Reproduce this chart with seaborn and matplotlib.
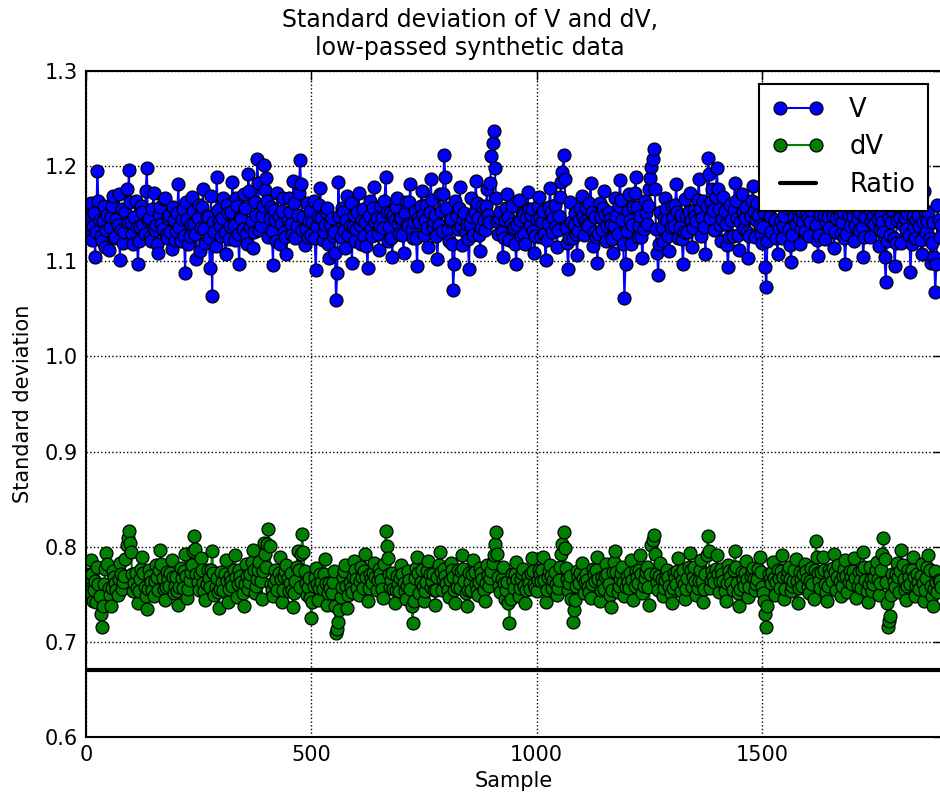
import matplotlib
matplotlib.use("Agg")
import matplotlib.pyplot as plt
import seaborn as sns
import numpy as np
import pandas as pd

# ---- data ----
# Values on samples 0, 5, 10, ... (series *_a) and on the in-between
# samples 2.5, 7.5, ... (series *_b).
SAMPLE_STEP = 5

V_a = [
    1.152, 1.128, 1.161, 1.137, 1.104, 1.195, 1.143, 1.121, 1.158, 1.133, 1.112, 1.147, 1.169, 1.126, 1.138, 1.101, 1.155, 1.131, 1.176, 1.196,
    1.141, 1.118, 1.163, 1.097, 1.136, 1.152, 1.129, 1.198, 1.146, 1.121, 1.172, 1.138, 1.109, 1.157, 1.134, 1.166, 1.125, 1.149, 1.113, 1.143,
    1.132, 1.181, 1.121, 1.155, 1.088, 1.144, 1.127, 1.168, 1.139, 1.102, 1.159, 1.135, 1.176, 1.119, 1.147, 1.093, 1.064, 1.131, 1.189, 1.142,
    1.127, 1.166, 1.108, 1.151, 1.137, 1.183, 1.122, 1.158, 1.097, 1.144, 1.171, 1.129, 1.192, 1.136, 1.114, 1.162, 1.207, 1.133, 1.148, 1.201,
    1.188, 1.126, 1.157, 1.096, 1.143, 1.172, 1.118, 1.153, 1.131, 1.108, 1.166, 1.139, 1.184, 1.124, 1.149, 1.206, 1.133, 1.117, 1.161, 1.142,
    1.128, 1.163, 1.091, 1.147, 1.177, 1.122, 1.138, 1.156, 1.103, 1.145, 1.131, 1.059, 1.183, 1.126, 1.152, 1.114, 1.169, 1.137, 1.098, 1.149,
    1.134, 1.172, 1.118, 1.155, 1.141, 1.093, 1.163, 1.127, 1.178, 1.146, 1.112, 1.158, 1.135, 1.189, 1.121, 1.151, 1.104, 1.143, 1.167, 1.129,
    1.146, 1.109, 1.162, 1.137, 1.181, 1.124, 1.153, 1.095, 1.141, 1.174, 1.128, 1.159, 1.115, 1.186, 1.136, 1.149, 1.102, 1.171, 1.132, 1.212,
    1.156, 1.121, 1.144, 1.070, 1.163, 1.134, 1.178, 1.117, 1.151, 1.139, 1.092, 1.167, 1.128, 1.184, 1.145, 1.111, 1.158, 1.133, 1.176, 1.141,
    1.211, 1.237, 1.166, 1.129, 1.152, 1.104, 1.143, 1.171, 1.122, 1.158, 1.136, 1.097, 1.164, 1.127, 1.149, 1.118, 1.173, 1.138, 1.155, 1.109,
    1.144, 1.168, 1.126, 1.153, 1.101, 1.139, 1.177, 1.131, 1.159, 1.115, 1.148, 1.183, 1.212, 1.135, 1.092, 1.162, 1.124, 1.151, 1.107, 1.143,
    1.169, 1.128, 1.156, 1.137, 1.182, 1.116, 1.147, 1.098, 1.161, 1.133, 1.174, 1.121, 1.152, 1.138, 1.109, 1.166, 1.129, 1.185, 1.143, 1.061,
    1.132, 1.171, 1.118, 1.157, 1.189, 1.126, 1.148, 1.103, 1.163, 1.139, 1.176, 1.199, 1.218, 1.134, 1.086, 1.152, 1.121, 1.167, 1.143, 1.111,
    1.158, 1.137, 1.181, 1.124, 1.149, 1.097, 1.165, 1.131, 1.172, 1.115, 1.154, 1.142, 1.186, 1.127, 1.163, 1.108, 1.209, 1.146, 1.176, 1.133,
    1.198, 1.155, 1.121, 1.168, 1.139, 1.094, 1.159, 1.127, 1.182, 1.145, 1.112, 1.171, 1.134, 1.157, 1.103, 1.148, 1.179, 1.126, 1.161, 1.138,
    1.119, 1.152, 1.073, 1.166, 1.131, 1.187, 1.143, 1.108, 1.162, 1.125, 1.148, 1.177, 1.134, 1.099, 1.157, 1.139, 1.171, 1.118, 1.151, 1.132,
    1.165, 1.127, 1.154, 1.191, 1.138, 1.106, 1.149, 1.173, 1.123, 1.159, 1.135, 1.182, 1.114, 1.146, 1.168, 1.129, 1.152, 1.097, 1.161, 1.137,
    1.176, 1.121, 1.155, 1.133, 1.169, 1.104, 1.147, 1.184, 1.126, 1.158, 1.139, 1.172, 1.116, 1.149, 1.131, 1.078, 1.163, 1.128, 1.154, 1.095,
    1.143, 1.171, 1.119, 1.156, 1.134, 1.167, 1.089, 1.148, 1.125, 1.162, 1.137, 1.108, 1.174, 1.131, 1.152, 1.098, 1.141, 1.068, 1.159, 1.126,
]

V_b = [
    1.138, 1.146, 1.122, 1.151, 1.131, 1.163, 1.127, 1.142, 1.115, 1.149, 1.136, 1.158, 1.124, 1.144, 1.171, 1.133, 1.119, 1.152, 1.141, 1.162,
    1.129, 1.147, 1.136, 1.121, 1.158, 1.138, 1.174, 1.143, 1.126, 1.155, 1.133, 1.118, 1.149, 1.139, 1.165, 1.128, 1.146, 1.131, 1.157, 1.122,
    1.151, 1.136, 1.144, 1.127, 1.162, 1.118, 1.139, 1.153, 1.129, 1.146, 1.111, 1.157, 1.134, 1.148, 1.125, 1.169, 1.141, 1.116, 1.154, 1.137,
    1.145, 1.131, 1.159, 1.123, 1.152, 1.138, 1.166, 1.129, 1.147, 1.134, 1.156, 1.118, 1.174, 1.142, 1.131, 1.149, 1.182, 1.137, 1.158, 1.175,
    1.163, 1.144, 1.132, 1.154, 1.121, 1.148, 1.139, 1.167, 1.126, 1.143, 1.152, 1.128, 1.161, 1.137, 1.172, 1.181, 1.147, 1.134, 1.126, 1.153,
    1.141, 1.124, 1.137, 1.159, 1.146, 1.131, 1.152, 1.118, 1.139, 1.127, 1.109, 1.088, 1.148, 1.156, 1.133, 1.143, 1.128, 1.161, 1.136, 1.121,
    1.152, 1.138, 1.143, 1.127, 1.116, 1.148, 1.134, 1.156, 1.141, 1.129, 1.137, 1.145, 1.163, 1.152, 1.136, 1.124, 1.149, 1.157, 1.139, 1.146,
    1.128, 1.151, 1.139, 1.162, 1.133, 1.141, 1.124, 1.146, 1.158, 1.149, 1.143, 1.135, 1.152, 1.164, 1.141, 1.127, 1.138, 1.153, 1.171, 1.189,
    1.134, 1.142, 1.118, 1.097, 1.148, 1.156, 1.137, 1.144, 1.131, 1.123, 1.139, 1.147, 1.152, 1.161, 1.128, 1.135, 1.143, 1.158, 1.149, 1.182,
    1.224, 1.198, 1.142, 1.146, 1.131, 1.125, 1.156, 1.147, 1.139, 1.134, 1.118, 1.138, 1.143, 1.151, 1.129, 1.146, 1.155, 1.149, 1.132, 1.127,
    1.158, 1.146, 1.141, 1.129, 1.122, 1.157, 1.152, 1.146, 1.137, 1.133, 1.168, 1.194, 1.187, 1.119, 1.124, 1.141, 1.138, 1.129, 1.132, 1.156,
    1.148, 1.142, 1.139, 1.161, 1.152, 1.131, 1.126, 1.129, 1.147, 1.156, 1.149, 1.137, 1.144, 1.123, 1.137, 1.148, 1.158, 1.164, 1.118, 1.097,
    1.153, 1.143, 1.138, 1.172, 1.157, 1.137, 1.126, 1.134, 1.151, 1.158, 1.188, 1.207, 1.176, 1.109, 1.118, 1.136, 1.145, 1.155, 1.127, 1.136,
    1.147, 1.159, 1.152, 1.136, 1.123, 1.131, 1.148, 1.152, 1.143, 1.135, 1.148, 1.164, 1.155, 1.146, 1.136, 1.158, 1.192, 1.162, 1.154, 1.168,
    1.176, 1.138, 1.144, 1.153, 1.117, 1.126, 1.143, 1.154, 1.163, 1.128, 1.141, 1.152, 1.146, 1.131, 1.127, 1.163, 1.152, 1.143, 1.149, 1.128,
    1.136, 1.094, 1.121, 1.148, 1.159, 1.164, 1.125, 1.135, 1.143, 1.137, 1.162, 1.156, 1.117, 1.128, 1.148, 1.155, 1.145, 1.134, 1.141, 1.149,
    1.146, 1.141, 1.172, 1.163, 1.122, 1.128, 1.161, 1.148, 1.141, 1.147, 1.158, 1.148, 1.131, 1.157, 1.148, 1.141, 1.124, 1.129, 1.149, 1.156,
    1.148, 1.138, 1.144, 1.151, 1.136, 1.126, 1.165, 1.155, 1.142, 1.148, 1.156, 1.144, 1.133, 1.141, 1.104, 1.121, 1.145, 1.141, 1.125, 1.119,
    1.157, 1.145, 1.138, 1.145, 1.151, 1.128, 1.118, 1.136, 1.143, 1.149, 1.122, 1.141, 1.153, 1.142, 1.125, 1.119, 1.104, 1.097, 1.143, 1.138,
]

dV_a = [
    0.771, 0.752, 0.786, 0.743, 0.764, 0.779, 0.748, 0.716, 0.761, 0.793, 0.757, 0.738, 0.774, 0.762, 0.749, 0.783, 0.756, 0.769, 0.802, 0.816,
    0.794, 0.753, 0.772, 0.741, 0.766, 0.789, 0.758, 0.735, 0.776, 0.763, 0.748, 0.781, 0.754, 0.797, 0.767, 0.744, 0.773, 0.759, 0.786, 0.751,
    0.768, 0.739, 0.778, 0.757, 0.792, 0.746, 0.765, 0.781, 0.811, 0.771, 0.755, 0.788, 0.762, 0.744, 0.776, 0.758, 0.795, 0.749, 0.767, 0.736,
    0.773, 0.754, 0.786, 0.742, 0.769, 0.759, 0.791, 0.747, 0.775, 0.763, 0.738, 0.782, 0.756, 0.771, 0.797, 0.751, 0.766, 0.784, 0.745, 0.804,
    0.779, 0.819, 0.761, 0.748, 0.776, 0.755, 0.789, 0.742, 0.768, 0.781, 0.753, 0.772, 0.737, 0.764, 0.795, 0.758, 0.813, 0.774, 0.749, 0.767,
    0.725, 0.759, 0.778, 0.744, 0.771, 0.756, 0.787, 0.739, 0.762, 0.751, 0.774, 0.709, 0.721, 0.747, 0.768, 0.781, 0.736, 0.763, 0.752, 0.785,
    0.766, 0.749, 0.779, 0.757, 0.792, 0.743, 0.771, 0.762, 0.783, 0.754, 0.777, 0.765, 0.746, 0.817, 0.788, 0.758, 0.772, 0.741, 0.769, 0.753,
    0.781, 0.762, 0.745, 0.774, 0.756, 0.720, 0.767, 0.789, 0.751, 0.776, 0.743, 0.763, 0.785, 0.758, 0.771, 0.739, 0.768, 0.794, 0.754, 0.777,
    0.762, 0.747, 0.783, 0.768, 0.741, 0.775, 0.757, 0.791, 0.764, 0.738, 0.772, 0.755, 0.786, 0.761, 0.749, 0.778, 0.766, 0.743, 0.781, 0.759,
    0.774, 0.791, 0.815, 0.768, 0.752, 0.779, 0.745, 0.763, 0.720, 0.771, 0.757, 0.784, 0.748, 0.766, 0.777, 0.741, 0.769, 0.756, 0.788, 0.761,
    0.753, 0.776, 0.764, 0.789, 0.742, 0.768, 0.781, 0.757, 0.773, 0.749, 0.765, 0.792, 0.815, 0.778, 0.755, 0.769, 0.721, 0.744, 0.774, 0.762,
    0.783, 0.751, 0.771, 0.758, 0.746, 0.777, 0.764, 0.789, 0.743, 0.768, 0.756, 0.782, 0.761, 0.737, 0.773, 0.795, 0.752, 0.766, 0.779, 0.748,
    0.769, 0.757, 0.786, 0.744, 0.774, 0.762, 0.791, 0.751, 0.767, 0.779, 0.739, 0.802, 0.812, 0.771, 0.755, 0.783, 0.748, 0.765, 0.776, 0.759,
    0.741, 0.772, 0.761, 0.788, 0.753, 0.776, 0.745, 0.767, 0.793, 0.758, 0.779, 0.749, 0.764, 0.786, 0.742, 0.771, 0.811, 0.757, 0.774, 0.763,
    0.791, 0.752, 0.777, 0.764, 0.743, 0.781, 0.768, 0.755, 0.795, 0.762, 0.738, 0.773, 0.759, 0.785, 0.747, 0.769, 0.778, 0.754, 0.766, 0.789,
    0.758, 0.743, 0.716, 0.771, 0.762, 0.784, 0.749, 0.776, 0.757, 0.791, 0.745, 0.768, 0.779, 0.753, 0.764, 0.787, 0.741, 0.773, 0.759, 0.782,
    0.766, 0.751, 0.778, 0.745, 0.806, 0.772, 0.757, 0.789, 0.761, 0.743, 0.776, 0.764, 0.792, 0.755, 0.781, 0.748, 0.769, 0.786, 0.752, 0.774,
    0.761, 0.788, 0.746, 0.773, 0.757, 0.794, 0.765, 0.742, 0.779, 0.753, 0.768, 0.784, 0.749, 0.776, 0.809, 0.763, 0.716, 0.727, 0.771, 0.758,
    0.783, 0.752, 0.797, 0.766, 0.744, 0.775, 0.761, 0.789, 0.748, 0.771, 0.756, 0.782, 0.743, 0.767, 0.791, 0.759, 0.738, 0.774, 0.752, 0.764,
]

dV_b = [
    0.762, 0.768, 0.771, 0.754, 0.742, 0.761, 0.729, 0.738, 0.777, 0.782, 0.749, 0.757, 0.768, 0.755, 0.766, 0.771, 0.763, 0.787, 0.809, 0.804,
    0.771, 0.762, 0.757, 0.753, 0.777, 0.772, 0.748, 0.756, 0.769, 0.755, 0.764, 0.768, 0.775, 0.782, 0.756, 0.758, 0.766, 0.772, 0.768, 0.759,
    0.753, 0.758, 0.767, 0.774, 0.769, 0.756, 0.773, 0.795, 0.798, 0.763, 0.771, 0.775, 0.753, 0.761, 0.767, 0.776, 0.772, 0.758, 0.752, 0.756,
    0.763, 0.771, 0.764, 0.756, 0.764, 0.775, 0.768, 0.761, 0.769, 0.751, 0.761, 0.769, 0.763, 0.784, 0.776, 0.759, 0.775, 0.764, 0.774, 0.792,
    0.803, 0.801, 0.754, 0.762, 0.766, 0.772, 0.766, 0.755, 0.774, 0.767, 0.762, 0.754, 0.751, 0.779, 0.776, 0.792, 0.794, 0.762, 0.758, 0.746,
    0.742, 0.768, 0.761, 0.757, 0.763, 0.771, 0.762, 0.751, 0.757, 0.763, 0.738, 0.714, 0.734, 0.758, 0.774, 0.759, 0.749, 0.757, 0.768, 0.775,
    0.757, 0.764, 0.768, 0.774, 0.768, 0.757, 0.766, 0.772, 0.768, 0.765, 0.771, 0.756, 0.782, 0.801, 0.771, 0.765, 0.756, 0.755, 0.761, 0.767,
    0.771, 0.753, 0.759, 0.765, 0.738, 0.743, 0.778, 0.772, 0.763, 0.759, 0.753, 0.774, 0.771, 0.764, 0.755, 0.754, 0.781, 0.773, 0.766, 0.769,
    0.754, 0.765, 0.775, 0.754, 0.758, 0.766, 0.774, 0.777, 0.751, 0.755, 0.763, 0.771, 0.773, 0.755, 0.763, 0.772, 0.754, 0.762, 0.770, 0.767,
    0.783, 0.803, 0.792, 0.759, 0.766, 0.762, 0.754, 0.741, 0.745, 0.764, 0.771, 0.766, 0.757, 0.772, 0.759, 0.755, 0.762, 0.772, 0.774, 0.757,
    0.765, 0.771, 0.776, 0.765, 0.755, 0.774, 0.769, 0.765, 0.761, 0.757, 0.779, 0.803, 0.799, 0.766, 0.762, 0.745, 0.733, 0.759, 0.768, 0.772,
    0.767, 0.763, 0.765, 0.752, 0.761, 0.771, 0.776, 0.766, 0.755, 0.762, 0.769, 0.771, 0.749, 0.755, 0.784, 0.773, 0.759, 0.772, 0.763, 0.758,
    0.763, 0.772, 0.765, 0.759, 0.768, 0.776, 0.771, 0.759, 0.773, 0.758, 0.771, 0.807, 0.792, 0.763, 0.769, 0.766, 0.757, 0.771, 0.768, 0.751,
    0.757, 0.767, 0.774, 0.771, 0.765, 0.761, 0.756, 0.779, 0.776, 0.768, 0.764, 0.757, 0.775, 0.764, 0.756, 0.791, 0.796, 0.765, 0.768, 0.777,
    0.771, 0.764, 0.771, 0.753, 0.762, 0.774, 0.762, 0.775, 0.779, 0.751, 0.756, 0.766, 0.772, 0.766, 0.758, 0.774, 0.766, 0.761, 0.777, 0.773,
    0.751, 0.729, 0.738, 0.766, 0.773, 0.767, 0.763, 0.767, 0.774, 0.768, 0.756, 0.774, 0.766, 0.759, 0.776, 0.764, 0.757, 0.766, 0.771, 0.774,
    0.758, 0.764, 0.761, 0.775, 0.789, 0.764, 0.773, 0.775, 0.752, 0.759, 0.771, 0.778, 0.773, 0.768, 0.764, 0.759, 0.777, 0.769, 0.763, 0.768,
    0.774, 0.767, 0.759, 0.765, 0.776, 0.779, 0.753, 0.761, 0.766, 0.761, 0.776, 0.766, 0.762, 0.792, 0.787, 0.741, 0.722, 0.749, 0.764, 0.771,
    0.768, 0.774, 0.781, 0.755, 0.759, 0.768, 0.775, 0.768, 0.759, 0.763, 0.769, 0.762, 0.755, 0.779, 0.775, 0.748, 0.756, 0.763, 0.765, 0.758,
]

RATIO = 0.67

TITLE = "Standard deviation of V and dV,\nlow-passed synthetic data"
XLABEL = "Sample"
YLABEL = "Standard deviation"
XTICKS = [0, 500, 1000, 1500]
YTICKS = [0.6, 0.7, 0.8, 0.9, 1.0, 1.1, 1.2, 1.3]

samples_a = [i * SAMPLE_STEP for i in range(len(V_a))]
samples_b = [i * SAMPLE_STEP + SAMPLE_STEP / 2 for i in range(len(V_b))]

df = pd.DataFrame({
    "Sample": samples_a + samples_b,
    "V": V_a + V_b,
    "dV": dV_a + dV_b,
}).sort_values("Sample").reset_index(drop=True)

# ---- style ----
sns.set_style("white")
plt.rcParams["font.family"] = ["DejaVu Sans"]
plt.rcParams["text.color"] = "black"
plt.rcParams["axes.labelcolor"] = "black"
plt.rcParams["xtick.color"] = "black"
plt.rcParams["ytick.color"] = "black"

W, H = 940, 800
fig = plt.figure(figsize=(W / 100, H / 100), dpi=100)
fig.patch.set_facecolor("white")

ax_left, ax_right_px, ax_top, ax_bottom = 86, 942, 71, 737
ax = fig.add_axes([ax_left / W, (H - ax_bottom) / H,
                   (ax_right_px - ax_left) / W, (ax_bottom - ax_top) / H])

common = dict(marker="o", markersize=9.3, markeredgecolor="black",
              markeredgewidth=0.9, linewidth=1.5, estimator=None, sort=False, ax=ax)
sns.lineplot(data=df, x="Sample", y="V", color="#0000ff", label="V", **common)
sns.lineplot(data=df, x="Sample", y="dV", color="#008000", label="dV", **common)
ax.axhline(RATIO, color="black", linewidth=3, label="Ratio")

ax.set_xlim(0, 1900)
ax.set_ylim(0.6, 1.3)
ax.set_xticks(XTICKS)
ax.set_yticks(YTICKS)
ax.set_yticklabels([f"{t:.1f}" for t in YTICKS])

ax.grid(True, linestyle=":", color="black", linewidth=1.0)
ax.set_axisbelow(True)
for s in ax.spines.values():
    s.set_linewidth(1.5)
    s.set_color("black")
ax.tick_params(direction="in", top=True, right=True, length=6.5, width=1,
               labelsize=15, pad=6, colors="black")

ax.set_xlabel(XLABEL, fontsize=15, labelpad=4, color="black")
ax.set_ylabel(YLABEL, fontsize=15, labelpad=8, color="black")

fig.suptitle(TITLE, x=0.5, y=1 - 8 / H, va="top", fontsize=17, color="black")

leg = ax.legend(loc="upper right", bbox_to_anchor=(928 / W, 1 - 84 / H),
                bbox_transform=fig.transFigure, borderaxespad=0,
                fontsize=18.5, frameon=True, fancybox=False, framealpha=1,
                edgecolor="black", numpoints=2, handlelength=2.0,
                borderpad=0.5, labelspacing=0.45, handletextpad=1.0)
leg.get_frame().set_linewidth(1.5)

fig.savefig("out.png", dpi=100, facecolor="white")
